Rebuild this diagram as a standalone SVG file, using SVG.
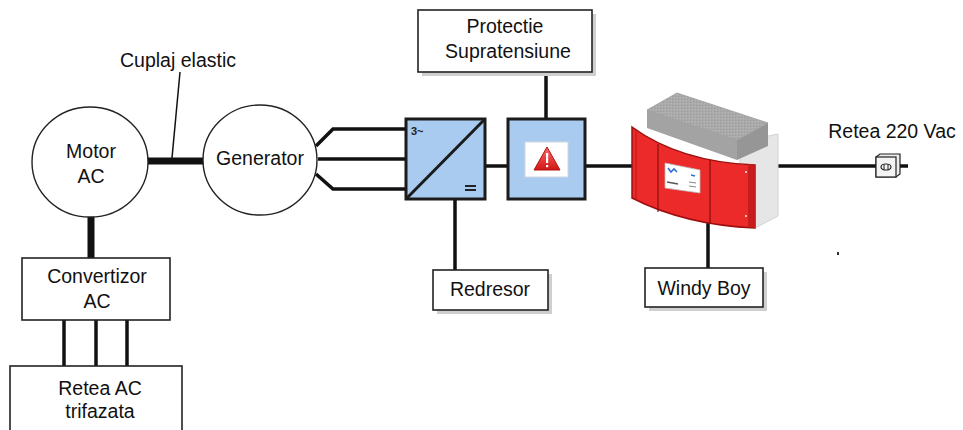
<svg xmlns="http://www.w3.org/2000/svg" width="963" height="430" viewBox="0 0 963 430">
  <defs>
    <style>
      .lbl { font-family: "Liberation Sans", Arial, sans-serif; font-size: 19.5px; fill: #111; text-anchor: middle; }
      .box { fill: #fff; stroke: #222; stroke-width: 1.6; }
      .shadow { fill: #cfcfcf; }
      .circ { fill: #fff; stroke: #222; stroke-width: 1.4; }
      .wire { stroke: #111; stroke-width: 3.5; fill: none; }
      .shaft { stroke: #111; stroke-width: 7; fill: none; }
      .thin { stroke: #111; stroke-width: 1.5; fill: none; }
      .blue { fill: #a9cbf0; stroke: #1b1b1b; stroke-width: 3; }
    </style>
    <pattern id="fins" width="3" height="3" patternUnits="userSpaceOnUse">
      <rect width="3" height="3" fill="#aaaaaa"/>
      <rect width="1" height="1" fill="#9a9a9a"/>
      <rect x="2" y="1" width="1" height="1" fill="#b8b8b8"/>
    </pattern>
    <linearGradient id="tri" x1="0" y1="0" x2="0" y2="1">
      <stop offset="0" stop-color="#ff6a6a"/>
      <stop offset="1" stop-color="#d01515"/>
    </linearGradient>
  </defs>

  <rect width="963" height="430" fill="#fff"/>

  <!-- connectors -->
  <g id="connectors">
    <line class="shaft" x1="146" y1="161" x2="204" y2="161"/>
    <line class="thin" x1="180" y1="72" x2="172" y2="158"/>
    <line class="shaft" x1="91" y1="216" x2="91" y2="259"/>
    <line class="wire" x1="64" y1="320" x2="64" y2="366"/>
    <line class="wire" x1="96" y1="320" x2="96" y2="366"/>
    <line class="wire" x1="127" y1="320" x2="127" y2="366"/>
    <polyline class="wire" points="316,146 333,129 407,129"/>
    <line class="wire" x1="318" y1="159" x2="407" y2="159"/>
    <polyline class="wire" points="316,174 333,189 407,189"/>
    <line class="wire" x1="485" y1="166" x2="509" y2="166"/>
    <line class="wire" x1="455" y1="199" x2="455" y2="271"/>
    <line class="wire" x1="546" y1="72" x2="546" y2="120"/>
    <line class="wire" x1="585" y1="166" x2="633" y2="166"/>
    <line class="wire" x1="708" y1="222" x2="708" y2="269"/>
    <line class="wire" x1="776" y1="166" x2="876" y2="166"/>
    <line class="wire" x1="899" y1="166" x2="908" y2="166"/>
  </g>

  <g id="cuplaj-label">
    <text class="lbl" x="178" y="67">Cuplaj elastic</text>
  </g>

  <g id="motor">
    <ellipse class="circ" cx="90" cy="162" rx="58" ry="55"/>
    <text class="lbl" x="91" y="158">Motor</text>
    <text class="lbl" x="91" y="183">AC</text>
  </g>

  <g id="generator">
    <ellipse class="circ" cx="260" cy="160" rx="57" ry="55"/>
    <text class="lbl" x="260" y="165">Generator</text>
  </g>

  <g id="convertizor">
    <rect class="box" x="22" y="258" width="148" height="62"/>
    <text class="lbl" x="97" y="283">Convertizor</text>
    <text class="lbl" x="97" y="308">AC</text>
  </g>

  <g id="retea-ac">
    <rect class="box" x="10" y="366" width="172" height="70"/>
    <text class="lbl" x="100" y="395">Retea AC</text>
    <text class="lbl" x="100" y="418">trifazata</text>
  </g>

  <g id="redresor-unit">
    <rect class="blue" x="406" y="119" width="79" height="80"/>
    <line x1="407" y1="198" x2="484" y2="120" stroke="#1b1b1b" stroke-width="3"/>
    <text x="411" y="135" font-family="Liberation Sans, Arial, sans-serif" font-size="11" font-weight="bold" fill="#222">3~</text>
    <line x1="465" y1="186" x2="476" y2="186" stroke="#222" stroke-width="2"/>
    <line x1="465" y1="190" x2="476" y2="190" stroke="#222" stroke-width="2"/>
  </g>

  <g id="protectie-unit">
    <rect class="blue" x="508" y="119" width="77" height="80"/>
    <rect x="525" y="142" width="43" height="35" fill="#fff" stroke="#cfd8e2" stroke-width="1"/>
    <polygon points="547,147 560,170 534,170" fill="url(#tri)" stroke="#b51212" stroke-width="1" stroke-linejoin="round"/>
    <rect x="546" y="153" width="2.2" height="10" fill="#fff"/>
    <rect x="546" y="165" width="2.2" height="2.2" fill="#fff"/>
  </g>

  <g id="protectie">
    <rect class="shadow" x="422" y="14" width="174" height="62"/>
    <rect class="box" x="418" y="10" width="174" height="62"/>
    <text class="lbl" x="505" y="33">Protectie</text>
    <text class="lbl" x="508" y="58">Supratensiune</text>
  </g>

  <g id="redresor">
    <rect class="shadow" x="437" y="274" width="115" height="40"/>
    <rect class="box" x="433" y="270" width="115" height="40"/>
    <text class="lbl" x="490" y="296">Redresor</text>
  </g>

  <g id="invertor">
    <!-- enclosure side -->
    <polygon points="740,142 778,134 778,216 755,228 740,222" fill="#e6e6e6" stroke="#d2d2d2" stroke-width="1"/>
    <!-- heat sink: top, front and side faces -->
    <polygon points="647,110 737,140 737,160 647,128" fill="#a3a3a3"/>
    <polygon points="737,140 768,123 768,146 737,160" fill="#969696"/>
    <polygon points="647,110 677,93 768,123 737,140" fill="url(#fins)" stroke="#9a9a9a" stroke-width="0.8"/>
    <!-- red front cover -->
    <path d="M632,127 Q680,162 755,165 L755,228 Q685,225 632,198 Z" fill="#ec2a2a" stroke="#9c0f0f" stroke-width="1.5"/>
    <path d="M748,164 L755,165 L755,228 L748,227 Z" fill="#c81c1c"/>
    <line x1="658" y1="144" x2="658" y2="212" stroke="#8a1010" stroke-width="1.2"/>
    <line x1="710" y1="160" x2="710" y2="223" stroke="#8a1010" stroke-width="1.2"/>
    <line x1="636" y1="130" x2="636" y2="200" stroke="#b31616" stroke-width="1"/>
    <!-- type plate -->
    <polygon points="665,163 700,170 700,193 665,188" fill="#fff" stroke="#bbb" stroke-width="0.8"/>
    <path d="M668,168 l3,4 l3,-3 l3,3" stroke="#2c6fd6" stroke-width="1.6" fill="none"/>
    <line x1="691" y1="175" x2="695" y2="176" stroke="#2c6fd6" stroke-width="1.6"/>
    <line x1="667" y1="182" x2="678" y2="184" stroke="#555" stroke-width="1.4"/>
    <line x1="689" y1="182" x2="696" y2="183" stroke="#888" stroke-width="1"/>
    <line x1="689" y1="186" x2="696" y2="187" stroke="#888" stroke-width="1"/>
    <circle cx="746" cy="172" r="0.9" fill="#fff"/>
    <circle cx="746" cy="216" r="0.9" fill="#fff"/>
  </g>

  <g id="windy-boy">
    <rect class="shadow" x="649" y="272" width="118" height="39"/>
    <rect class="box" x="645" y="268" width="118" height="39"/>
    <text class="lbl" x="704" y="295">Windy Boy</text>
  </g>

  <g id="priza">
    <polygon points="876,157 880,154 900,154 900,174 896,177 876,177" fill="#eee" stroke="#222" stroke-width="1.2"/>
    <rect x="876" y="157" width="20" height="20" fill="#f4f4f4" stroke="#222" stroke-width="1.2"/>
    <ellipse cx="886" cy="167" rx="5" ry="3" fill="none" stroke="#222" stroke-width="1.2"/>
    <line x1="884" y1="165" x2="884" y2="169" stroke="#222" stroke-width="1"/>
    <line x1="888" y1="165" x2="888" y2="169" stroke="#222" stroke-width="1"/>
  </g>

  <g id="retea-220">
    <text class="lbl" x="892" y="138">Retea 220 Vac</text>
  </g>

  <rect x="837" y="252" width="2" height="3" fill="#333"/>
</svg>
